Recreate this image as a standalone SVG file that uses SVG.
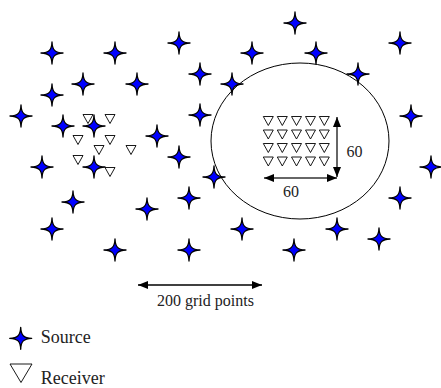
<svg xmlns="http://www.w3.org/2000/svg" xmlns:xlink="http://www.w3.org/1999/xlink" width="441" height="388" viewBox="0 0 441 388">
  <style>
    .src { fill: #0000ff; stroke: #000; stroke-width: 1.3; stroke-linejoin: round; }
    .rcv { fill: #fff; stroke: #000; stroke-width: 0.9; stroke-linejoin: miter; }
    .dim { stroke: #333; stroke-width: 1.5; fill: none; }
    .lbl { font-family: "Liberation Serif", "Times New Roman", serif; fill: #222; }
    .zone { fill: none; stroke: #000; stroke-width: 1; }
  </style>
  <defs>
    <!-- four-pointed source symbol -->
    <path id="star" d="M0,-11 C0.3,-3 3,-0.3 11,0 C3,0.3 0.3,3 0,11 C-0.3,3 -3,0.3 -11,0 C-3,-0.3 -0.3,-3 0,-11 Z"/>
    <!-- downward receiver triangle -->
    <path id="tri" d="M-5,-4.5 H5 L0,4.5 Z"/>
    <marker id="head" viewBox="0 0 10 8" refX="10" refY="4" markerWidth="10" markerHeight="8" markerUnits="userSpaceOnUse" orient="auto-start-reverse">
      <path d="M0,0 L10,4 L0,8 Z" fill="#000"/>
    </marker>
  </defs>

  <!-- dense acquisition zone -->
  <g id="zone">
    <ellipse class="zone" cx="300" cy="141" rx="89" ry="78"/>
  </g>

  <!-- dimension arrows -->
  <g id="connectors">
    <line class="dim" x1="337" y1="117" x2="337" y2="177" marker-start="url(#head)" marker-end="url(#head)"/>
    <line class="dim" x1="264" y1="178" x2="337" y2="178" marker-start="url(#head)" marker-end="url(#head)"/>
    <line x1="138" y1="285" x2="262" y2="285" stroke="#000" stroke-width="1.5" marker-start="url(#head)" marker-end="url(#head)"/>
  </g>

  <!-- receiver grid inside the zone -->
  <g id="receivers-grid">
    <use href="#tri" class="rcv" x="268.3" y="121"/>
    <use href="#tri" class="rcv" x="282.3" y="121"/>
    <use href="#tri" class="rcv" x="296.5" y="121"/>
    <use href="#tri" class="rcv" x="310.5" y="121"/>
    <use href="#tri" class="rcv" x="324.3" y="121"/>
    <use href="#tri" class="rcv" x="268.3" y="134.5"/>
    <use href="#tri" class="rcv" x="282.3" y="134.5"/>
    <use href="#tri" class="rcv" x="296.5" y="134.5"/>
    <use href="#tri" class="rcv" x="310.5" y="134.5"/>
    <use href="#tri" class="rcv" x="324.3" y="134.5"/>
    <use href="#tri" class="rcv" x="268.3" y="148"/>
    <use href="#tri" class="rcv" x="282.3" y="148"/>
    <use href="#tri" class="rcv" x="296.5" y="148"/>
    <use href="#tri" class="rcv" x="310.5" y="148"/>
    <use href="#tri" class="rcv" x="324.3" y="148"/>
    <use href="#tri" class="rcv" x="268.3" y="161.5"/>
    <use href="#tri" class="rcv" x="282.3" y="161.5"/>
    <use href="#tri" class="rcv" x="296.5" y="161.5"/>
    <use href="#tri" class="rcv" x="310.5" y="161.5"/>
    <use href="#tri" class="rcv" x="324.3" y="161.5"/>
  </g>

  <!-- scattered receivers -->
  <g id="receivers-scatter">
    <use href="#tri" class="rcv" x="88" y="119"/>
    <use href="#tri" class="rcv" x="110" y="119"/>
    <use href="#tri" class="rcv" x="78" y="140"/>
    <use href="#tri" class="rcv" x="110" y="140"/>
    <use href="#tri" class="rcv" x="99" y="150"/>
    <use href="#tri" class="rcv" x="131" y="150"/>
    <use href="#tri" class="rcv" x="78" y="160"/>
    <use href="#tri" class="rcv" x="110" y="172"/>
  </g>

  <!-- sources -->
  <g id="sources">
    <use href="#star" class="src" x="295" y="23"/>
    <use href="#star" class="src" x="179" y="43"/>
    <use href="#star" class="src" x="400" y="43"/>
    <use href="#star" class="src" x="52" y="53"/>
    <use href="#star" class="src" x="115" y="53"/>
    <use href="#star" class="src" x="252" y="53"/>
    <use href="#star" class="src" x="316" y="53"/>
    <use href="#star" class="src" x="200" y="74"/>
    <use href="#star" class="src" x="358" y="74"/>
    <use href="#star" class="src" x="83" y="84"/>
    <use href="#star" class="src" x="137" y="84"/>
    <use href="#star" class="src" x="232" y="84"/>
    <use href="#star" class="src" x="52" y="95"/>
    <use href="#star" class="src" x="21" y="116"/>
    <use href="#star" class="src" x="200" y="115"/>
    <use href="#star" class="src" x="411" y="116"/>
    <use href="#star" class="src" x="63" y="126"/>
    <use href="#star" class="src" x="94" y="126"/>
    <use href="#star" class="src" x="157" y="136"/>
    <use href="#star" class="src" x="179" y="157"/>
    <use href="#star" class="src" x="42" y="167"/>
    <use href="#star" class="src" x="94" y="167"/>
    <use href="#star" class="src" x="431" y="167"/>
    <use href="#star" class="src" x="214" y="177"/>
    <use href="#star" class="src" x="189" y="198"/>
    <use href="#star" class="src" x="400" y="198"/>
    <use href="#star" class="src" x="73" y="202"/>
    <use href="#star" class="src" x="147" y="209"/>
    <use href="#star" class="src" x="52" y="229"/>
    <use href="#star" class="src" x="242" y="229"/>
    <use href="#star" class="src" x="337" y="229"/>
    <use href="#star" class="src" x="379" y="239"/>
    <use href="#star" class="src" x="115" y="250"/>
    <use href="#star" class="src" x="189" y="250"/>
    <use href="#star" class="src" x="294" y="250"/>
  </g>

  <!-- dimension labels -->
  <g id="labels">
    <text class="lbl" x="346.5" y="156.5" font-size="16">60</text>
    <text class="lbl" x="283" y="196.5" font-size="16">60</text>
    <text class="lbl" x="157" y="306" font-size="16">200 grid points</text>
  </g>

  <!-- legend -->
  <g id="legend-source">
    <use href="#star" class="src" x="20.7" y="338.3"/>
    <text class="lbl" x="40.7" y="342.7" font-size="18">Source</text>
  </g>
  <g id="legend-receiver">
    <path class="rcv" d="M10,364 H32 L21,382.5 Z"/>
    <text class="lbl" x="40.7" y="383.5" font-size="18">Receiver</text>
  </g>
</svg>
